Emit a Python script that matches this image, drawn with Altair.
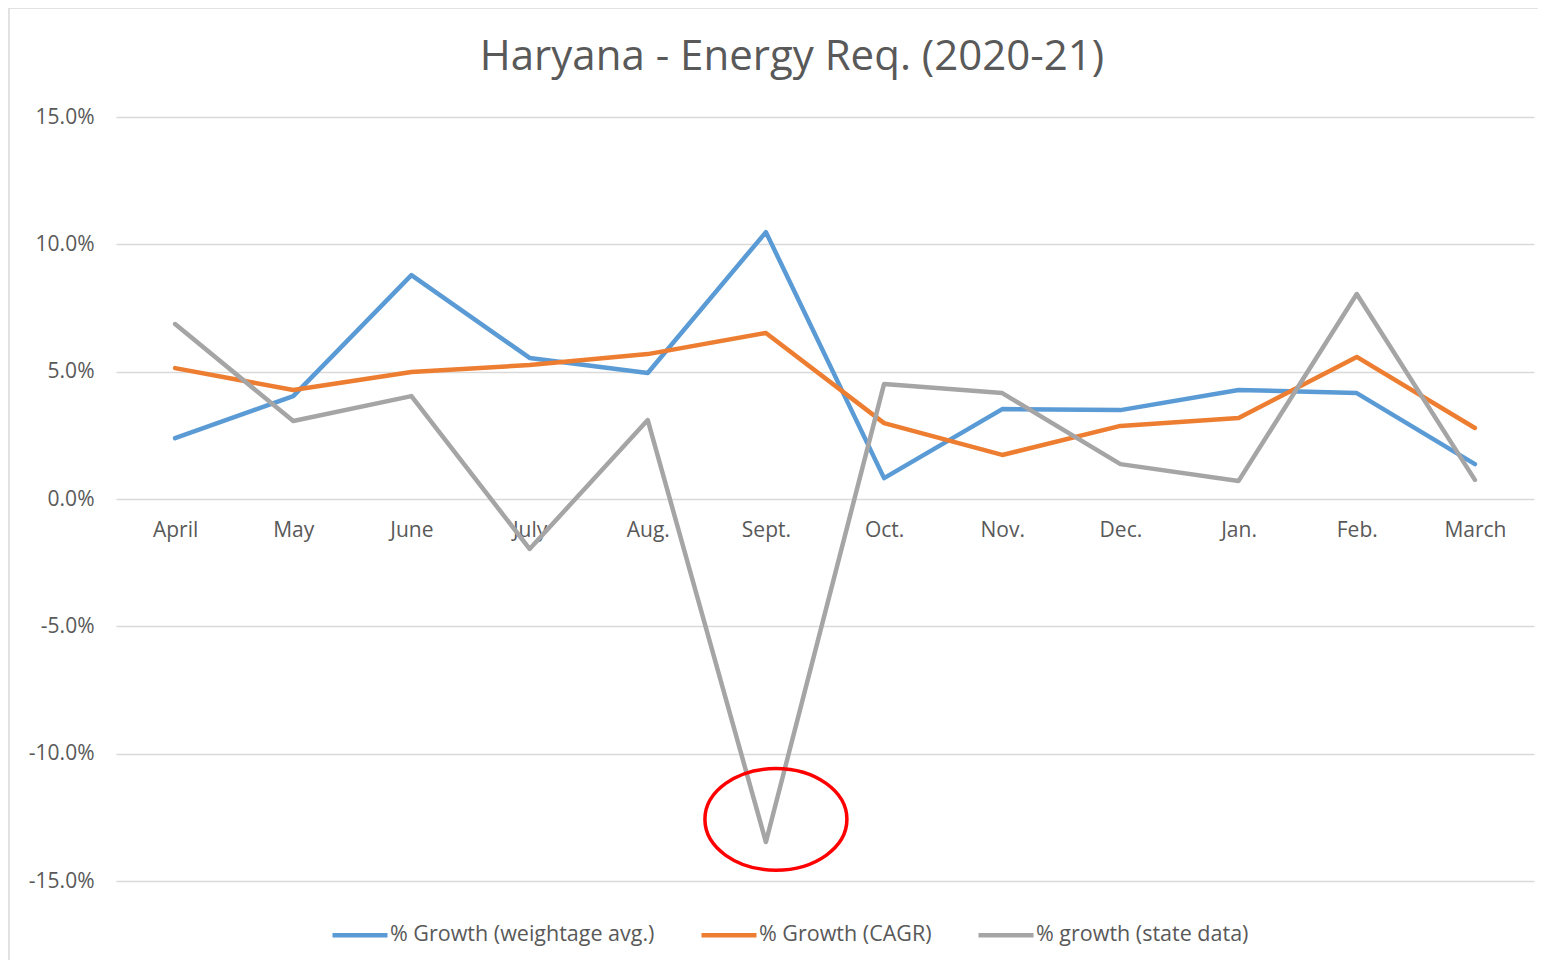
import altair as alt
import pandas as pd

months = ["April", "May", "June", "July", "Aug.", "Sept.", "Oct.", "Nov.", "Dec.", "Jan.", "Feb.", "March"]
series_names = ["% Growth (weightage avg.)", "% Growth (CAGR)", "% growth (state data)"]
weighted = [2.39, 4.04, 8.79, 5.54, 4.95, 10.48, 0.82, 3.53, 3.49, 4.28, 4.16, 1.37]
cagr = [5.14, 4.28, 4.99, 5.26, 5.69, 6.52, 2.98, 1.73, 2.87, 3.18, 5.58, 2.79]
state = [6.87, 3.06, 4.04, -1.96, 3.10, -13.47, 4.52, 4.16, 1.37, 0.71, 8.05, 0.75]
colors = ["#5B9BD5", "#ED7D31", "#A5A5A5"]
y_ticks = [-0.15, -0.10, -0.05, 0.0, 0.05, 0.10, 0.15]
title_text = ["Haryana - Energy Req. (2020-21)"]

# highlight ellipse annotation (around the September dip of the state data)
highlight_month = ["Sept."]
highlight_value = [-12.58]

rows = []
for name, vals in zip(series_names, [weighted, cagr, state]):
    for i, (m, v) in enumerate(zip(months, vals)):
        rows.append({"month": m, "value": v / 100.0, "series": name, "order": i})
df = pd.DataFrame(rows)
hl = pd.DataFrame({"month": highlight_month, "value": [v / 100.0 for v in highlight_value]})

FONT = "Open Sans"
TXT = "#595959"
LBL = 21
LEG = 21.5

x_enc = alt.X("month:N", sort=months,
              scale=alt.Scale(type="point", padding=0.5, domain=months),
              axis=alt.Axis(title=None, orient="bottom", offset=-382, domain=False,
                            ticks=False, grid=False, labelAngle=0, labelPadding=20,
                            labelFontSize=LBL, labelColor=TXT, labelFont=FONT))
y_enc = alt.Y("value:Q",
              scale=alt.Scale(domain=[-0.15, 0.15], nice=False, zero=False),
              axis=alt.Axis(title=None, values=y_ticks, domain=False, ticks=False,
                            labelExpr="replace(format(datum.value, '.1%'), '\u2212', '-')",
                            labelPadding=22, labelFontSize=LBL, labelColor=TXT, labelFont=FONT,
                            grid=True, gridColor="#d9d9d9", gridWidth=1.5))

lines = alt.Chart(df).mark_line(strokeWidth=4.5, strokeCap="round", strokeJoin="round").encode(
    x=x_enc,
    y=y_enc,
    color=alt.Color("series:N",
                    scale=alt.Scale(domain=series_names, range=colors),
                    legend=alt.Legend(title=None, orient="none", direction="horizontal",
                                      legendX=214, legendY=788,
                                      symbolType="stroke", symbolSize=3025,
                                      symbolStrokeWidth=4.5, labelOffset=0,
                                      columnPadding=37, labelFontSize=LEG,
                                      labelColor=TXT, labelFont=FONT, labelLimit=400)),
    order="order:Q",
)

ellipse = alt.Chart(hl).mark_point(
    shape="M -1 0 A 1 0.716 0 1 1 1 0 A 1 0.716 0 1 1 -1 0 Z",
    size=20164, filled=False, stroke="#FF0000", strokeWidth=3.5, opacity=1, xOffset=10,
).encode(
    x=alt.X("month:N", sort=months, scale=alt.Scale(type="point", padding=0.5, domain=months)),
    y=alt.Y("value:Q", scale=alt.Scale(domain=[-0.15, 0.15], nice=False, zero=False)),
)

border = alt.Chart(pd.DataFrame({"a": [0]})).mark_rect(
    fill=None, filled=False, stroke="#d9d9d9", strokeWidth=1.5
).encode(
    x=alt.value(-107), x2=alt.value(1440), y=alt.value(-109), y2=alt.value(900)
)

title = alt.Chart(pd.DataFrame({"t": title_text})).mark_text(
    font=FONT, fontSize=42, color=TXT, align="center", baseline="middle"
).encode(
    text="t:N", x=alt.value(676), y=alt.value(-60)
)

chart = alt.layer(border, lines, ellipse, title).properties(
    width=1418, height=764,
    autosize=alt.AutoSizeParams(type="none"),
    padding={"left": 108, "top": 109, "right": 4, "bottom": 79},
    background="white",
).configure_view(stroke=None)

chart.save("out.html", embed_options={"renderer": "svg", "actions": False})
